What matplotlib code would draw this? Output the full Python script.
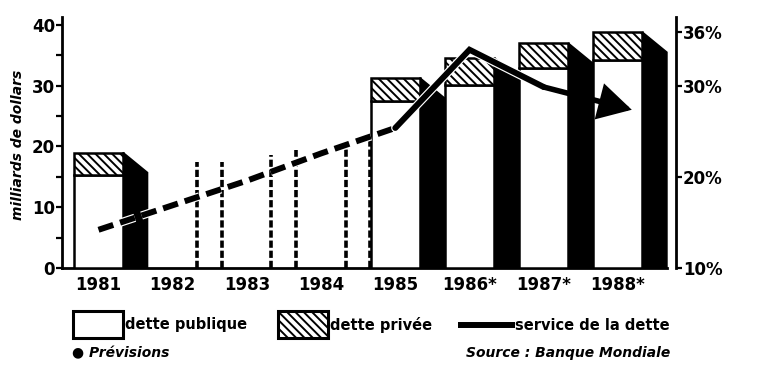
import matplotlib
matplotlib.use("Agg")
import matplotlib.pyplot as plt
from matplotlib.patches import Rectangle, Polygon
import matplotlib.patheffects as pe
from matplotlib.transforms import offset_copy

plt.rcParams["font.family"] = ["DejaVu Sans"]
plt.rcParams["font.weight"] = "bold"
plt.rcParams["hatch.linewidth"] = 1.4

# ---- data ---------------------------------------------------------------
years = ["1981", "1982", "1983", "1984", "1985", "1986*", "1987*", "1988*"]
# external debt, billions of dollars (None: no full bar for that year)
dette_publique = [15.3, None, None, None, 27.4, 30.1, 32.9, 34.3]
dette_privee = [3.7, None, None, None, 3.9, 4.5, 4.1, 4.5]
# outline heights drawn for the years without a full bar (front / rear edge)
contour_avant = [None, 17.5, 18.6, 20.6, None, None, None, None]
contour_arriere = [None, 17.5, 19.4, 21.0, None, None, None, None]
# debt service ratio, %
service_dette = [14.2, 16.9, 19.6, 22.6, 25.4, 34.0, 29.9, 27.4]
pct_ticks = [10, 20, 30, 36]
mds_ticks = [0, 10, 20, 30, 40]

# ---- geometry of the pseudo-3D bars ------------------------------------
FRONT = 0.66     # width of the front face
DEPTH = 0.33     # width of the black side face
DROP = 3.3       # slant of the side face top
HATCH = "\\\\\\\\"

W, H = 758, 368
fig = plt.figure(figsize=(W / 100, H / 100), dpi=100)
ax = fig.add_axes([62 / W, 1 - 268 / H, (676 - 62) / W, (268 - 17) / H])
ax.set_xlim(-0.492, 7.783)
ax.set_ylim(0, 41.3)

for i, name in enumerate(years):
    x0 = i - FRONT / 2
    x1 = i + FRONT / 2
    pub = dette_publique[i]
    if pub is not None:
        tot = pub + dette_privee[i]
        ax.add_patch(Polygon([(x1, 0), (x1, tot), (x1 + DEPTH, tot - DROP),
                              (x1 + DEPTH, 0)], closed=True, fc="black",
                             ec="black", lw=1.2, zorder=2))
        ax.add_patch(Rectangle((x0, 0), FRONT, pub, fc="white", ec="black",
                               lw=1.8, zorder=3))
        ax.add_patch(Rectangle((x0, pub), FRONT, dette_privee[i], fc="white",
                               ec="black", lw=1.8, hatch=HATCH, zorder=3))
    else:
        for xe, h in ((x1, contour_avant[i]), (x1 + DEPTH, contour_arriere[i])):
            ax.plot([xe, xe], [0, h], color="black", lw=2.6,
                    ls=(0, (2.0, 0.8)), zorder=2)

# axes: left scale in billions, baseline
for s in ("top", "right"):
    ax.spines[s].set_visible(False)
ax.spines["left"].set_linewidth(2.0)
ax.spines["bottom"].set_linewidth(2.0)
ax.spines["bottom"].set_bounds(-0.492, 7 + FRONT / 2 + DEPTH)
ax.set_yticks(mds_ticks)
ax.set_yticks([5, 15, 25, 35], minor=True)
ax.tick_params(axis="y", which="both", direction="out", length=4, width=1.6,
               labelsize=12, pad=1)
ax.set_xticks(range(len(years)))
ax.set_xticklabels(years, fontsize=12, fontweight="bold")
ax.tick_params(axis="x", length=0, pad=6)
for lab in ax.get_yticklabels():
    lab.set_fontweight("bold")

# right scale in percent and the debt-service curve
ax2 = ax.twinx()
ax2.set_ylim(10, 37.6)
for s in ("top", "left", "bottom"):
    ax2.spines[s].set_visible(False)
ax2.spines["right"].set_linewidth(2.0)
ax2.spines["right"].set_bounds(10, 37.6)
ax2.set_yticks(pct_ticks)
ax2.set_yticklabels([f"{v}%" for v in pct_ticks], fontsize=12,
                    fontweight="bold")
ax2.tick_params(axis="y", direction="out", length=4, width=1.6, pad=1)

halo = [pe.Stroke(linewidth=6.0, foreground="white"), pe.Normal()]
xs = list(range(len(years)))
ax2.plot(xs[:5], service_dette[:5], color="black", lw=4.3,
         dashes=(2.6, 1.2), dash_capstyle="butt", path_effects=halo,
         zorder=5)
ax2.plot(xs[4:7], service_dette[4:7], color="black", lw=4.3,
         solid_capstyle="round", solid_joinstyle="miter", path_effects=halo,
         zorder=5)
# final segment ends in an arrowhead that reaches a little past the bar centre
tip = offset_copy(ax2.transData, fig=fig, x=10, y=0, units="points")
arr = ax2.annotate("", xy=(xs[7], service_dette[7]), xycoords=tip,
                   xytext=(xs[6], service_dette[6]), textcoords="data",
                   arrowprops=dict(arrowstyle="-|>,head_length=0.9,head_width=0.5",
                                   mutation_scale=20, lw=4.0, color="black",
                                   shrinkA=0, shrinkB=0, joinstyle="miter"),
                   zorder=6)

fig.text(18 / W, 1 - 145 / H, "milliards de dollars", rotation=90,
         ha="center", va="center", fontsize=10, fontweight="bold",
         style="italic")

# ---- legend and notes (pixel overlay) ------------------------------------
ov = fig.add_axes([0, 0, 1, 1], zorder=10)
ov.set_xlim(0, W)
ov.set_ylim(H, 0)
ov.axis("off")
ov.add_patch(Rectangle((73, 311), 50, 27, fc="white", ec="black", lw=2.2))
ov.text(125, 325, "dette publique", ha="left", va="center", fontsize=10.5,
        fontweight="bold")
ov.add_patch(Rectangle((278, 311), 50, 27, fc="white", ec="black", lw=2.2,
                       hatch=HATCH))
ov.text(330, 325, "dette privée", ha="left", va="center", fontsize=10.5,
        fontweight="bold")
ov.plot([458, 515], [325, 325], color="black", lw=4.3, solid_capstyle="butt")
ov.text(515, 325, "service de la dette", ha="left", va="center",
        fontsize=10.5, fontweight="bold")
ov.text(72, 353, "● Prévisions", ha="left", va="center", fontsize=10,
        fontweight="bold", style="italic")
ov.text(670, 353, "Source : Banque Mondiale", ha="right", va="center",
        fontsize=10, fontweight="bold", style="italic")

fig.savefig("out.png", dpi=100, facecolor="white")
